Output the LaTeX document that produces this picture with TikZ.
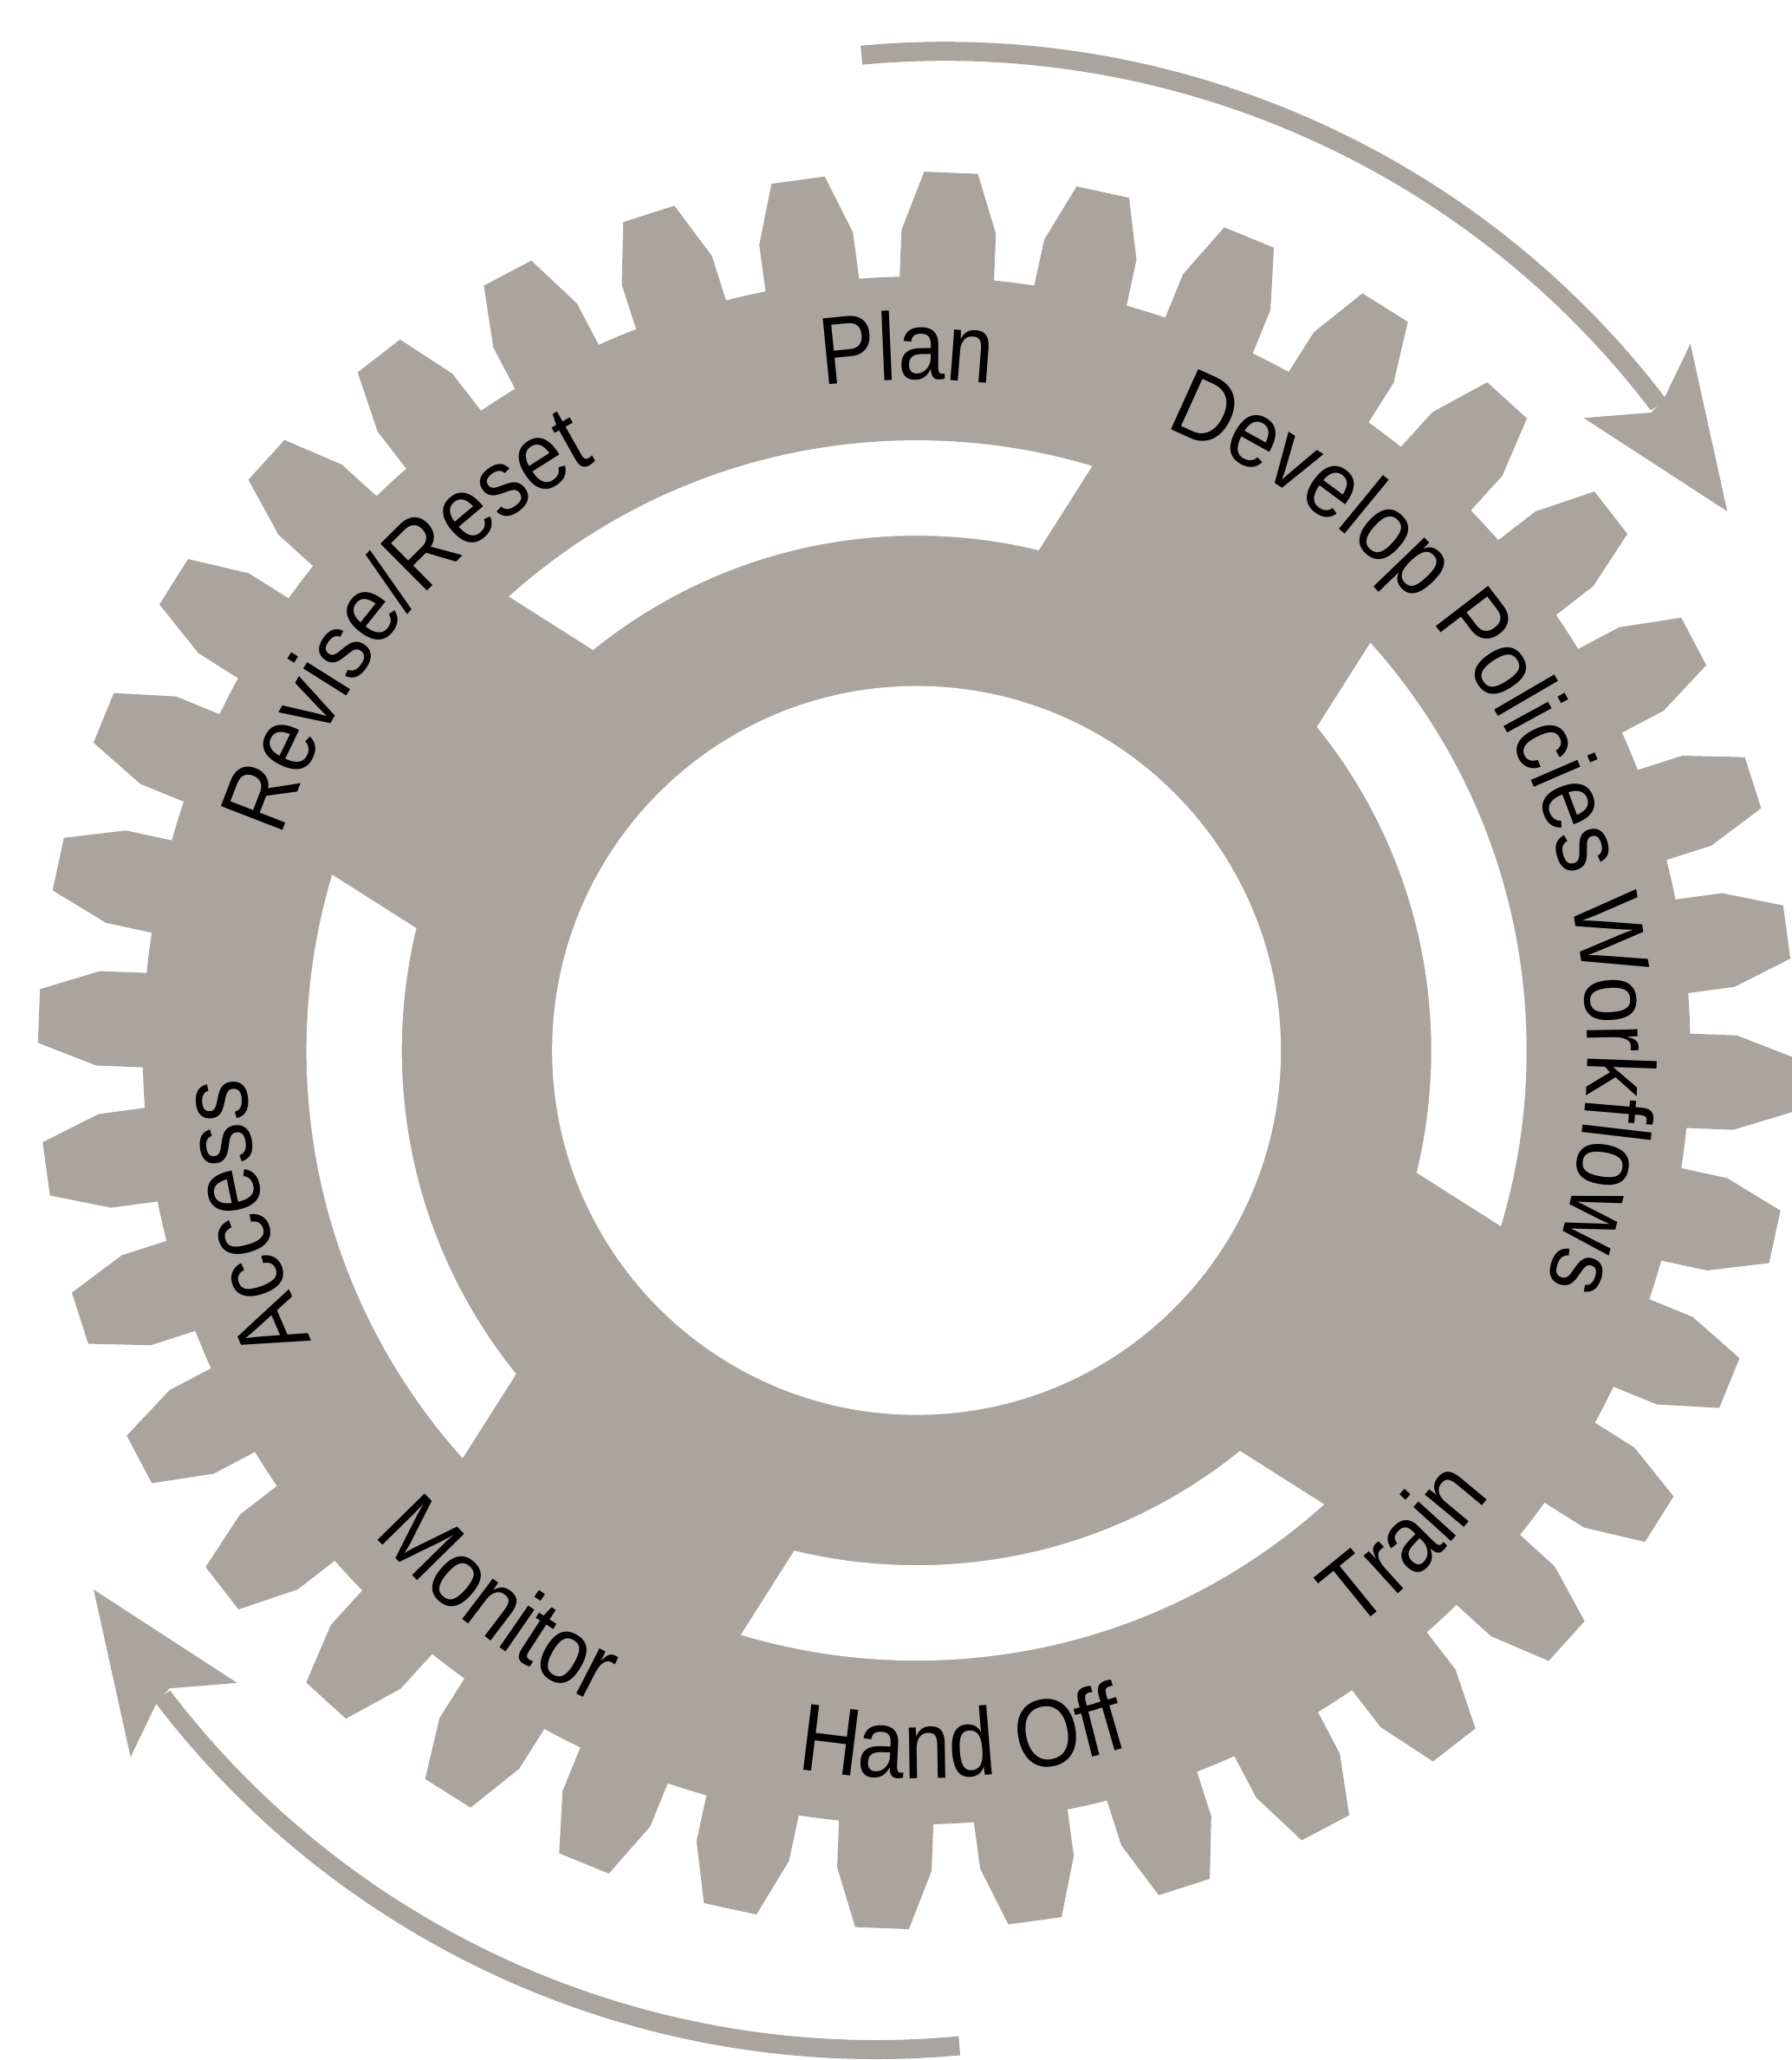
\documentclass[tikz,border=0pt]{standalone}
\usepackage{fontspec}
\newfontfamily\lblfam[FakeStretch=0.88]{Liberation Sans}
\newcommand\lblfont{\lblfam\fontsize{31.5pt}{37pt}\selectfont}
\usetikzlibrary{decorations.text}
\definecolor{gearc}{RGB}{170,164,159}
\begin{document}
\begin{tikzpicture}[
  gearfill/.style={fill=gearc},
  cwlabel/.style={decorate, decoration={text along path, text align=center, text={|\lblfont|#1}}},
  ccwlabel/.style={decorate, decoration={text along path, text align=center, text={|\lblfont|#1}}},
  arrowline/.style={draw=gearc, line width=0.22cm},
]
\useasboundingbox (-10.577,-11.649) rectangle (10.103,12.121);

% gear body with 36 teeth
\fill[gearfill] (4.25:8.93)
  \foreach \k [evaluate=\k as \t using 7.75+10*\k] in {0,...,35}{
    -- ({\t-3.5}:8.93) -- ({\t-3.3}:9.47) -- ({\t-1.75}:10.14)
    -- ({\t+1.75}:10.14) -- ({\t+3.3}:9.47) -- ({\t+3.5}:8.93)
    arc[start angle={\t+3.5}, end angle={\t+6.5}, radius=8.93]
  } -- cycle;

% white slot ring
\fill[white, even odd rule] (0,0) circle (7.04) (0,0) circle (5.94);
% spokes
\fill[gearfill, rotate=57.6] (-7.1,-1.9) rectangle (7.1,1.9);
\fill[gearfill, rotate=-32.4] (-7.1,-1.9) rectangle (7.1,1.9);
% hub hole
\fill[white] (0,0) circle (4.205);

% labels, clockwise (tops outward)
\path[cwlabel=Plan] (150.8:7.74) arc[start angle=150.8, end angle=30.8, radius=7.74];
\path[cwlabel=Develop Policies Workflows] (94:7.74) arc[start angle=94, end angle=-46, radius=7.74];
\path[cwlabel=Revise/Reset] (200:7.74) arc[start angle=200, end angle=80, radius=7.74];
\path[cwlabel=Access] (254:7.74) arc[start angle=254, end angle=134, radius=7.74];
% labels, counterclockwise (tops inward)
\path[ccwlabel=Train] (-85.4:8.38) arc[start angle=-85.4, end angle=-5.4, radius=8.38];
\path[ccwlabel=Hand Off] (-126.2:8.40) arc[start angle=-126.2, end angle=-46.2, radius=8.40];
\path[ccwlabel=Monitor] (-167.2:8.40) arc[start angle=-167.2, end angle=-87.2, radius=8.40];

% cycle arrows
\foreach \r in {0,180}{
  \begin{scope}[rotate around={\r:(-0.07,0)}]
    \coordinate (tailend) at (-0.635,11.484);
    \draw[arrowline] (tailend) arc[start angle=95.35, end angle=37.3, radius=10.35];
    \fill[gearfill] (9.356,6.221) -- (8.930,8.154) -- (8.640,7.548)
      -- (8.483,7.361) -- (7.700,7.298) -- cycle;
  \end{scope}
}
\end{tikzpicture}
\end{document}
